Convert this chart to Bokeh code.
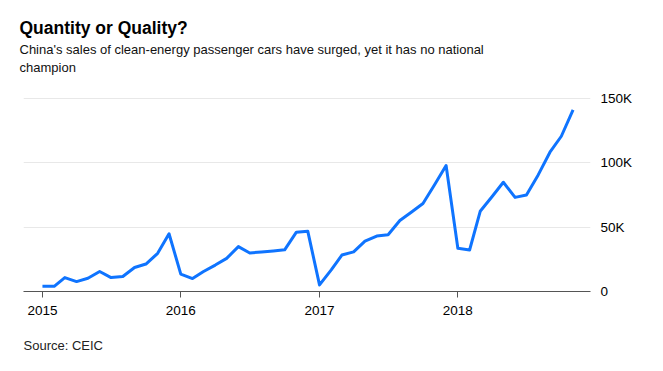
import pandas as pd
from bokeh.plotting import figure
from bokeh.models import Title, FixedTicker, Range1d, DatetimeTickFormatter
from bokeh.embed import file_html
from bokeh.resources import INLINE

# ---- data (thousands of cars per month) ----
months = pd.date_range("2015-01-01", "2018-11-01", freq="MS")
sales_k = [
    4.0, 4.0, 10.8, 7.7, 10.3, 15.5, 10.8, 11.6, 18.6, 21.3, 29.6, 44.8,
    13.5, 10.0, 15.5, 20.5, 25.7, 34.8, 29.9, 30.7, 31.5, 32.3, 46.0, 46.8,
    5.1, 16.8, 28.3, 30.7, 39.0, 43.0, 44.0, 55.0, 61.7, 68.3, 83.0, 97.7,
    33.5, 32.2, 62.2, 73.5, 84.7, 73.0, 74.8, 90.4, 108.0, 120.4, 140.8,
]
sales = [v * 1000 for v in sales_k]
year_ticks = pd.to_datetime(["2015-01-01", "2016-01-01", "2017-01-01", "2018-01-01"])
y_ticks = [0, 50000, 100000, 150000]
y_labels = ["0", "50K", "100K", "150K"]

title_text = "Quantity or Quality?"
subtitle_lines = [
    "China's sales of clean-energy passenger cars have surged, yet it has no national",
    "champion",
]
source_text = "Source: CEIC"

FONT = "Liberation Sans"

p = figure(
    width=638, height=339,
    x_axis_type="datetime",
    x_range=Range1d(pd.Timestamp("2014-11-12"), pd.Timestamp("2018-12-17")),
    y_range=Range1d(0, 152000),
    y_axis_location="right",
    output_backend="svg",
    toolbar_location=None,
    min_border_left=23,
    min_border_right=48,
    min_border_top=0,
    min_border_bottom=0,
)
p.margin = (13, 0, 0, 0)
p.outline_line_color = None
p.title.visible = False

p.line(months, sales, line_color="#0f74ff", line_width=3, line_join="round")

# x axis
xa = p.xaxis[0]
xa.ticker = FixedTicker(ticks=[t.value // 10**6 for t in year_ticks])
xa.formatter = DatetimeTickFormatter(
    years="%Y", months="%Y", days="%Y", hours="%Y", minutes="%Y",
    seconds="%Y", milliseconds="%Y", microseconds="%Y",
)
xa.axis_line_color = "#555555"
xa.axis_line_width = 1.2
xa.major_tick_line_color = "#555555"
xa.major_tick_out = 6
xa.major_tick_in = 0
xa.minor_tick_line_color = None
xa.major_label_standoff = 8
xa.major_label_text_font = FONT
xa.major_label_text_font_size = "13.5px"
xa.major_label_text_color = "#000000"

# y axis
ya = p.yaxis[0]
ya.ticker = FixedTicker(ticks=y_ticks)
ya.major_label_overrides = {t: l for t, l in zip(y_ticks, y_labels)}
ya.axis_line_color = None
ya.major_tick_line_color = None
ya.major_tick_out = 0
ya.major_tick_in = 0
ya.minor_tick_line_color = None
ya.major_label_standoff = 10
ya.major_label_text_font = FONT
ya.major_label_text_font_size = "13.5px"
ya.major_label_text_color = "#000000"

p.xgrid.grid_line_color = None
p.ygrid.grid_line_color = "#e8e8e8"
p.ygrid.grid_line_width = 1.2

# headings: panels stack outward from the plot in the order added
p.add_layout(Title(text=" ", text_font_size="1px", standoff=18), "above")
p.add_layout(Title(text="\n".join(subtitle_lines), text_font=FONT,
                   text_font_size="13px", text_line_height=1.2,
                   text_font_style="normal", text_color="#111111", offset=-4,
                   standoff=0), "above")
p.add_layout(Title(text=title_text, text_font=FONT, text_font_size="17.5px",
                   text_font_style="bold", text_color="#000000", offset=-4,
                   standoff=4), "above")
p.add_layout(Title(text=" ", text_font_size="1px", standoff=15), "below")
p.add_layout(Title(text=source_text, text_font=FONT, text_font_size="13px",
                   text_font_style="normal", text_color="#222222", offset=0,
                   standoff=0), "below")

open("out.html", "w").write(file_html(p, INLINE))
